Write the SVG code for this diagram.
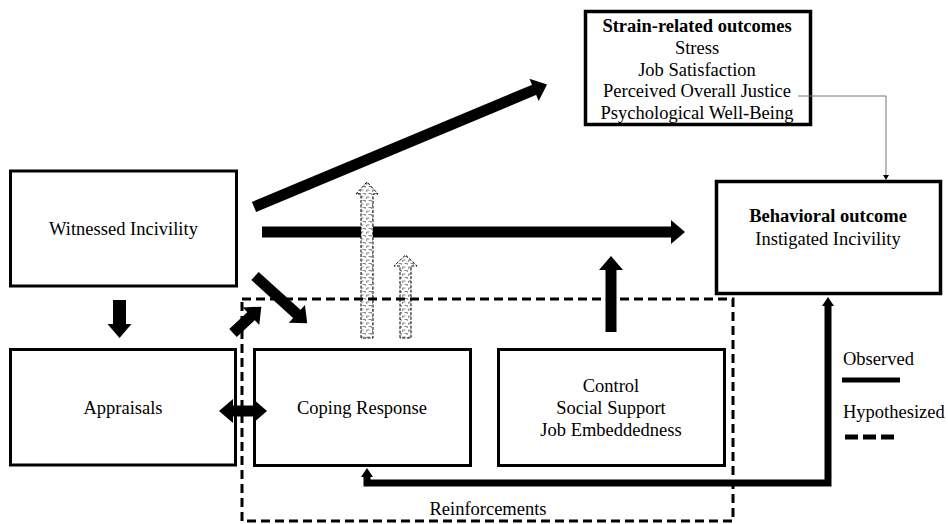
<svg xmlns="http://www.w3.org/2000/svg" width="948" height="524" viewBox="0 0 948 524">
<style>
.box{fill:#fff;stroke:#000;stroke-width:3}
.thick{stroke-width:3.5}
text{font-family:'Liberation Serif','Times New Roman',serif;font-size:18.5px;fill:#000;text-anchor:middle}
.b{font-weight:bold}
.l{text-anchor:start}
.arr{stroke:#000;fill:none;marker-end:url(#head)}
.hatch{fill:url(#brick);stroke:#000;stroke-width:1;stroke-dasharray:3 1.5}
</style>
<defs>
<marker id="head" markerUnits="userSpaceOnUse" markerWidth="20" markerHeight="26" refX="1" refY="12" orient="auto" overflow="visible">
<path d="M0,0 L14,12 L0,24 z" fill="#000"/>
</marker>
<marker id="headS" markerUnits="userSpaceOnUse" markerWidth="20" markerHeight="26" refX="1" refY="12" orient="auto-start-reverse" overflow="visible">
<path d="M0,0 L14,12 L0,24 z" fill="#000"/>
</marker>
<marker id="small" markerUnits="userSpaceOnUse" markerWidth="12" markerHeight="14" refX="1" refY="6" orient="auto-start-reverse" overflow="visible">
<path d="M0,0 L9,6 L0,12 z" fill="#000"/>
</marker>
<marker id="tiny" markerUnits="userSpaceOnUse" markerWidth="8" markerHeight="8" refX="0" refY="3" orient="auto" overflow="visible">
<path d="M0,0 L5,3 L0,6 z" fill="#000"/>
</marker>
<pattern id="brick" width="6" height="7" patternUnits="userSpaceOnUse">
<rect width="6" height="7" fill="#fff"/>
<path d="M0.5,1 h3 M2.5,4.5 h3 M0.7,1 v2 M5.3,4.5 v1.5" stroke="#555" stroke-width="0.7" fill="none"/>
</pattern>
</defs>
<rect width="948" height="524" fill="#fff"/>

<g id="witnessed">
<rect class="box" x="10.5" y="171" width="226" height="115"/>
<text x="123.5" y="235">Witnessed Incivility</text>
</g>
<g id="appraisals">
<rect class="box" x="10.5" y="349.5" width="225" height="115.5"/>
<text x="123" y="414">Appraisals</text>
</g>
<g id="coping">
<rect class="box" x="254.5" y="349.5" width="216" height="116"/>
<text x="362" y="414">Coping Response</text>
</g>
<g id="control">
<rect class="box" x="498.5" y="349.5" width="226" height="116"/>
<text x="611" y="392">Control</text>
<text x="611" y="414">Social Support</text>
<text x="611" y="436">Job Embeddedness</text>
</g>
<g id="behavioral">
<rect class="box thick" x="716.5" y="181.5" width="224" height="112"/>
<text class="b" x="828" y="222">Behavioral outcome</text>
<text x="828" y="245">Instigated Incivility</text>
</g>
<g id="strain">
<rect class="box thick" x="585.5" y="11.5" width="225" height="113"/>
<text class="b" x="697" y="32">Strain-related outcomes</text>
<text x="697" y="54">Stress</text>
<text x="697" y="76">Job Satisfaction</text>
<text x="697" y="97">Perceived Overall Justice</text>
<text x="697" y="119">Psychological Well-Being</text>
</g>

<g id="connectors">
<line class="arr" x1="262" y1="232" x2="672" y2="232" stroke-width="11"/>
<line class="arr" x1="254" y1="207" x2="535" y2="89.5" stroke-width="11"/>
<line class="arr" x1="119.5" y1="300" x2="119.5" y2="325" stroke-width="13"/>
<line class="arr" x1="255" y1="276" x2="297.6" y2="314.6" stroke-width="11"/>
<line class="arr" x1="233" y1="333" x2="251.8" y2="315.5" stroke-width="11"/>
<line x1="232" y1="411" x2="254" y2="411" stroke="#000" stroke-width="11" marker-start="url(#headS)" marker-end="url(#headS)"/>
<line class="arr" x1="611" y1="332" x2="611" y2="269" stroke-width="11"/>
<path d="M367,476 L367,483 L828,483 L828,305" fill="none" stroke="#000" stroke-width="7" marker-start="url(#small)" marker-end="url(#small)"/>
<path d="M798,96 L886,96 L886,175" fill="none" stroke="#777" stroke-width="1" marker-end="url(#tiny)"/>
<polygon class="hatch" points="361,338 361,194 356,194 367,182 378,194 373,194 373,338"/>
<polygon class="hatch" points="400,338 400,266 394,266 405.5,255 417,266 411,266 411,338"/>
</g>

<g id="reinforcements">
<rect x="242" y="299" width="491" height="222" fill="none" stroke="#000" stroke-width="3" stroke-dasharray="9 5"/>
<text x="488" y="515">Reinforcements</text>
</g>
<g id="legend">
<text class="l" x="843" y="365">Observed</text>
<line x1="842" y1="380" x2="900" y2="380" stroke="#000" stroke-width="5"/>
<text class="l" x="843" y="418">Hypothesized</text>
<line x1="845" y1="437" x2="899" y2="437" stroke="#000" stroke-width="5" stroke-dasharray="13 5"/>
</g>
</svg>
